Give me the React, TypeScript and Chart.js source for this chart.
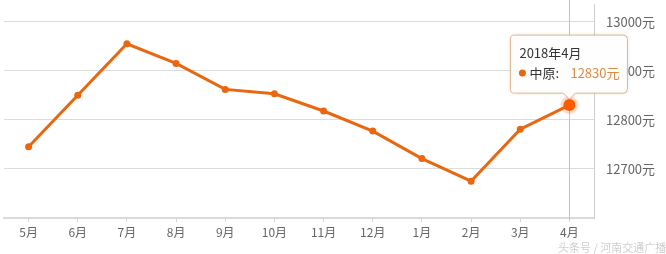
import React, { useEffect, useRef } from "react";
import { Chart, registerables } from "chart.js";

Chart.register(...registerables);

const months = ["5月", "6月", "7月", "8月", "9月", "10月", "11月", "12月", "1月", "2月", "3月", "4月"];
const prices = [12745, 12850, 12955, 12915, 12862, 12853, 12818, 12777, 12721, 12675, 12781, 12830];
const yTicks = [12700, 12800, 12900, 13000];
const seriesName = "中原";
const tooltipTitle = "2018年4月";
const unit = "元";

const FONT = "'Noto Sans CJK SC', 'Noto Sans', sans-serif";
const LINE = "#e8670f";
const HOT = "#ff5a00";

export default function App() {
  const ref = useRef<HTMLCanvasElement | null>(null);

  useEffect(() => {
    if (!ref.current) return;
    const activeIndex = prices.length - 1;

    const overlay = {
      id: "overlay",
      beforeDatasetsDraw(chart: any) {
        const meta = chart.getDatasetMeta(0);
        const p = meta.data[activeIndex];
        const ctx = chart.ctx;
        ctx.save();
        ctx.strokeStyle = "#c4c4c4";
        ctx.lineWidth = 1;
        const x = Math.round(p.x) + 0.5;
        ctx.beginPath();
        ctx.moveTo(x, 0);
        ctx.lineTo(x, chart.chartArea.bottom + 2);
        ctx.stroke();
        ctx.restore();
      },
      afterDatasetsDraw(chart: any) {
        const meta = chart.getDatasetMeta(0);
        const p = meta.data[activeIndex];
        const ctx = chart.ctx;
        ctx.save();
        // halo
        ctx.fillStyle = "rgba(255,90,0,0.22)";
        ctx.beginPath();
        ctx.arc(p.x, p.y, 9, 0, Math.PI * 2);
        ctx.fill();
        ctx.fillStyle = HOT;
        ctx.beginPath();
        ctx.arc(p.x, p.y, 6, 0, Math.PI * 2);
        ctx.fill();

        // tooltip
        const w = 117;
        const h = 58;
        const left = p.x - 59;
        const bottom = p.y - 12;
        const top = bottom - h;
        const r = 4;
        ctx.shadowColor = "rgba(0,0,0,0.12)";
        ctx.shadowBlur = 4;
        ctx.fillStyle = "rgba(255,255,255,0.95)";
        ctx.strokeStyle = "#e2b48c";
        ctx.lineWidth = 1;
        ctx.beginPath();
        ctx.moveTo(left + r, top);
        ctx.lineTo(left + w - r, top);
        ctx.quadraticCurveTo(left + w, top, left + w, top + r);
        ctx.lineTo(left + w, bottom - r);
        ctx.quadraticCurveTo(left + w, bottom, left + w - r, bottom);
        ctx.lineTo(p.x + 6, bottom);
        ctx.lineTo(p.x, bottom + 6);
        ctx.lineTo(p.x - 6, bottom);
        ctx.lineTo(left + r, bottom);
        ctx.quadraticCurveTo(left, bottom, left, bottom - r);
        ctx.lineTo(left, top + r);
        ctx.quadraticCurveTo(left, top, left + r, top);
        ctx.closePath();
        ctx.fill();
        ctx.shadowColor = "transparent";
        ctx.stroke();

        ctx.textBaseline = "middle";
        ctx.textAlign = "left";
        ctx.font = `13px ${FONT}`;
        ctx.fillStyle = "#333";
        ctx.fillText(tooltipTitle, left + 9, top + 18);
        const by = top + 38;
        ctx.fillStyle = LINE;
        ctx.beginPath();
        ctx.arc(left + 12, by, 3.5, 0, Math.PI * 2);
        ctx.fill();
        ctx.fillStyle = "#333";
        ctx.fillText(seriesName + ":", left + 19, by);
        ctx.fillStyle = "#db8d45";
        ctx.fillText(String(prices[activeIndex]) + unit, p.x + 1, by);
        ctx.restore();
      },
    };

    const chart = new Chart(ref.current, {
      type: "line",
      data: {
        labels: months,
        datasets: [
          {
            label: seriesName,
            data: prices,
            borderColor: LINE,
            backgroundColor: LINE,
            borderWidth: 3,
            pointRadius: 3.5,
            pointBackgroundColor: LINE,
            pointBorderWidth: 0,
            tension: 0,
          },
        ],
      },
      options: {
        animation: false,
        responsive: false,
        events: [],
        layout: { padding: { left: 2, top: 0, right: 0, bottom: 0 } },
        plugins: {
          legend: { display: false },
          tooltip: { enabled: false },
        },
        scales: {
          x: {
            type: "category",
            offset: true,
            grid: {
              display: true,
              drawOnChartArea: false,
              drawTicks: true,
              tickLength: 4,
              offset: false,
              color: "#d4d4d4",
            },
            border: { display: true, color: "#dadada", width: 2 },
            ticks: {
              color: "#666",
              font: { size: 12, family: FONT },
              padding: 3,
              maxRotation: 0,
              autoSkip: false,
            },
            afterFit(scale: any) {
              scale.height = 36;
              scale.paddingLeft = 0;
              scale.paddingRight = 0;
            },
          },
          y: {
            position: "right",
            min: 12600,
            max: 13036,
            grid: { color: "#dcdcdc", lineWidth: 1, drawTicks: false },
            border: { display: true, color: "#cfcfcf", width: 1 },
            ticks: {
              color: "#666",
              font: { size: 13, family: FONT },
              padding: 12,
              callback: (v: any) => v + unit,
            },
            afterBuildTicks(scale: any) {
              scale.ticks = yTicks.map((v) => ({ value: v }));
            },
            afterFit(scale: any) {
              scale.width = 72;
              scale.paddingTop = 0;
              scale.paddingBottom = 0;
            },
          },
        },
      },
      plugins: [overlay],
    });
    return () => chart.destroy();
  }, []);

  return (
    <div style={{ position: "absolute", left: 0, top: 0, width: 666, height: 254, background: "#fff" }}>
      <canvas ref={ref} width={666} height={254} style={{ display: "block" }} />
      <div
        style={{
          position: "absolute",
          left: 558,
          top: 239,
          fontSize: 11,
          color: "#cfcfcf",
          fontFamily: FONT,
          whiteSpace: "nowrap",
        }}
      >
        头条号 / 河南交通广播
      </div>
    </div>
  );
}
